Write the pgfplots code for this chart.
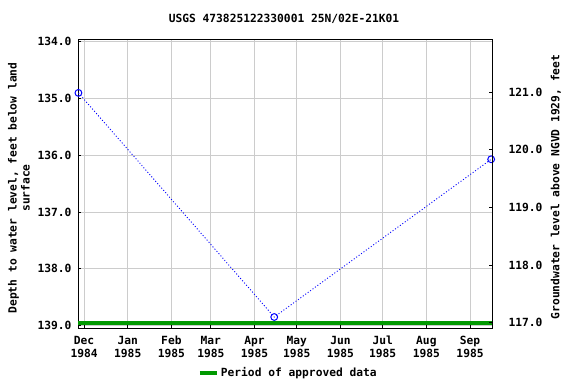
\documentclass[border=0pt]{standalone}
\usepackage{pgfplots}
\pgfplotsset{compat=1.18}
\usepackage{fontspec}
\setmainfont{DejaVu Sans Mono}
\definecolor{apgreen}{RGB}{0,153,0}
\definecolor{gridgray}{RGB}{204,204,204}
\newcommand{\ff}{\bfseries\fontsize{11.3}{13}\selectfont}
\newcommand{\ml}[2]{\strut #1\\\strut #2}
\begin{document}
\begin{tikzpicture}[x=1bp,y=1bp]
\path[use as bounding box] (0,0) rectangle (576,384);
\begin{axis}[
  at={(78bp,56bp)}, anchor=south west, scale only axis,
  width=414bp, height=289bp,
  xmin=-4.3, xmax=289.6,
  ymin=133.95, ymax=139.044, y dir=reverse,
  xtick={0,31,62,90,121,151,182,212,243,274},
  xticklabels={{\ml{Dec}{1984}},{\ml{Jan}{1985}},{\ml{Feb}{1985}},{\ml{Mar}{1985}},{\ml{Apr}{1985}},{\ml{May}{1985}},{\ml{Jun}{1985}},{\ml{Jul}{1985}},{\ml{Aug}{1985}},{\ml{Sep}{1985}}},
  xticklabel style={align=center, font=\ff, yshift=-4bp},
  ytick={134,135,136,137,138,139},
  yticklabel style={font=\ff, xshift=-3bp},
  /pgf/number format/.cd, fixed, fixed zerofill, precision=1, assume math mode=true, 1000 sep={},
  /pgfplots/.cd,
  xtick pos=bottom, ytick pos=left,
  major tick length=3bp,
  grid=major, grid style={gridgray, line width=0.8bp},
  axis line style={black, line width=1bp},
  tick style={black, line width=0.8bp},
  legend style={at={(0.508,-0.155)}, anchor=center, draw=none, fill=none, font=\ff,
    legend cell align=left, inner sep=0pt},
  clip=false,
]
\addplot[apgreen, line width=4bp, forget plot] coordinates {(-4.3,138.96) (289.6,138.96)};
\addlegendimage{apgreen, line width=4bp}
\addlegendentry{Period of approved data}
\addplot[blue, line width=0.9bp, dash pattern=on 1bp off 2bp,
  mark=o, mark size=3.4bp, mark options={solid, line width=1bp}, forget plot]
  coordinates {(-4,134.90) (135,138.85) (289,136.07)};
\end{axis}
\begin{axis}[
  at={(78bp,56bp)}, anchor=south west, scale only axis,
  width=414bp, height=289bp,
  xmin=-4.3, xmax=289.6,
  ymin=116.908, ymax=121.92,
  axis x line=none, axis y line*=right,
  ytick={117,118,119,120,121},
  yticklabel style={font=\ff, xshift=13bp},
  /pgf/number format/.cd, fixed, fixed zerofill, precision=1, assume math mode=true,
  /pgfplots/.cd,
  ytick pos=right,
  major tick length=3bp,
  axis line style={black, line width=1bp},
  tick style={black, line width=0.8bp},
]
\addplot[draw=none] coordinates {(0,118)};
\end{axis}
\node[font=\ff] at (284,365) {USGS 473825122330001 25N/02E-21K01};
\node[font=\ff, rotate=90, align=center] at (19,196) {Depth to water level, feet below land\\surface};
\node[font=\ff, rotate=90] at (556,197) {Groundwater level above NGVD 1929, feet};
\end{tikzpicture}
\end{document}
